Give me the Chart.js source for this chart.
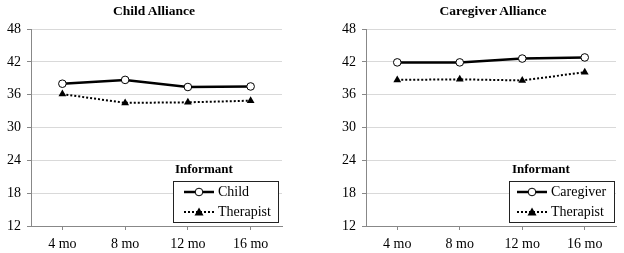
<!DOCTYPE html>
<html>
<head>
<meta charset="utf-8">
<title>Alliance by Informant</title>
<script src="https://cdn.jsdelivr.net/npm/chart.js@4"></script>
<style>
  body { margin: 0; background: #fff; font-family: 'Liberation Serif', serif; }
  .panel { position: absolute; top: 0; width: 312px; height: 253px; }
  .panel canvas { position: absolute; left: 0; top: 0; }
  .title { position: absolute; top: 3px; font-weight: bold; font-size: 13.5px; color: #000; white-space: nowrap; transform: translateX(-50%); }
  .legend-title { position: absolute; font-weight: bold; font-size: 13px; top: 161px; }
  .legend-box { position: absolute; top: 181px; height: 40px; border: 1px solid #222; background: #fff; font-size: 14px; }
  .legend-row { position: absolute; left: 0; height: 20px; display: flex; align-items: center; }
  .legend-row svg { margin-left: 8px; margin-right: 2px; }
</style>
</head>
<body>
<div class="panel" style="left:0">
  <canvas id="childChart" width="312" height="253"></canvas>
  <div class="title" style="left:154px">Child Alliance</div>
  <div class="legend-title" style="left:175px">Informant</div>
  <div class="legend-box" style="left:173px; width:104px">
    <div class="legend-row" style="top:0"><svg width="34" height="12"><line x1="2" y1="6" x2="32" y2="6" stroke="#000" stroke-width="2.5"/><circle cx="17" cy="6" r="3.8" fill="#fff" stroke="#000" stroke-width="1"/></svg>Child</div>
    <div class="legend-row" style="top:20px"><svg width="34" height="12"><line x1="2" y1="6" x2="32" y2="6" stroke="#000" stroke-width="2" stroke-dasharray="2,2"/><polygon points="17,1.5 21.5,9.5 12.5,9.5" fill="#000"/></svg>Therapist</div>
  </div>
</div>
<div class="panel" style="left:312px">
  <canvas id="caregiverChart" width="312" height="253"></canvas>
  <div class="title" style="left:181px">Caregiver Alliance</div>
  <div class="legend-title" style="left:200px">Informant</div>
  <div class="legend-box" style="left:197px; width:104px">
    <div class="legend-row" style="top:0"><svg width="34" height="12" style="margin-left:5px"><line x1="2" y1="6" x2="32" y2="6" stroke="#000" stroke-width="2.5"/><circle cx="17" cy="6" r="3.8" fill="#fff" stroke="#000" stroke-width="1"/></svg>Caregiver</div>
    <div class="legend-row" style="top:20px"><svg width="34" height="12" style="margin-left:5px"><line x1="2" y1="6" x2="32" y2="6" stroke="#000" stroke-width="2" stroke-dasharray="2,2"/><polygon points="17,1.5 21.5,9.5 12.5,9.5" fill="#000"/></svg>Therapist</div>
  </div>
</div>

<script>
const months = ['4 mo', '8 mo', '12 mo', '16 mo'];
const childReport = [38.0, 38.7, 37.4, 37.5];
const childTherapist = [36.1, 34.5, 34.6, 34.9];
const caregiverReport = [41.9, 41.9, 42.6, 42.8];
const caregiverTherapist = [38.7, 38.8, 38.6, 40.1];
const yMin = 12, yMax = 48, yStep = 6;

const serif = "'Liberation Serif', 'Times New Roman', serif";

function makeChart(id, solidLabel, solidData, dottedData, yWidth, padRight) {
  new Chart(document.getElementById(id), {
    type: 'line',
    data: {
      labels: months,
      datasets: [
        {
          label: solidLabel,
          data: solidData,
          borderColor: '#000',
          borderWidth: 2.5,
          pointStyle: 'circle',
          pointRadius: 3.8,
          pointBackgroundColor: '#fff',
          pointBorderColor: '#000',
          pointBorderWidth: 1,
          tension: 0
        },
        {
          label: 'Therapist',
          data: dottedData,
          borderColor: '#000',
          borderWidth: 2,
          borderDash: [2, 2],
          pointStyle: 'triangle',
          pointRadius: 4.5,
          pointBackgroundColor: '#000',
          pointBorderColor: '#000',
          pointBorderWidth: 0,
          tension: 0
        }
      ]
    },
    options: {
      responsive: false,
      animation: false,
      layout: { padding: { top: 29, right: padRight, bottom: 0, left: 0 } },
      plugins: { legend: { display: false }, title: { display: false }, tooltip: { enabled: false } },
      scales: {
        x: {
          offset: true,
          grid: { drawOnChartArea: false, offset: false, tickLength: 4, tickColor: '#888', color: '#888' },
          border: { color: '#888', width: 1 },
          ticks: { color: '#000', font: { family: serif, size: 14 }, padding: 6, maxRotation: 0 },
          afterFit: s => { s.height = 27; }
        },
        y: {
          min: yMin,
          max: yMax,
          grid: { color: '#d9d9d9', tickLength: 4, tickColor: '#888' },
          border: { color: '#888', width: 1 },
          ticks: { stepSize: yStep, color: '#000', font: { family: serif, size: 14 }, padding: 6 },
          afterFit: s => { s.width = yWidth; }
        }
      }
    }
  });
}

makeChart('childChart', 'Child', childReport, childTherapist, 31, 30);
makeChart('caregiverChart', 'Caregiver', caregiverReport, caregiverTherapist, 54, 8);
</script>
</body>
</html>
